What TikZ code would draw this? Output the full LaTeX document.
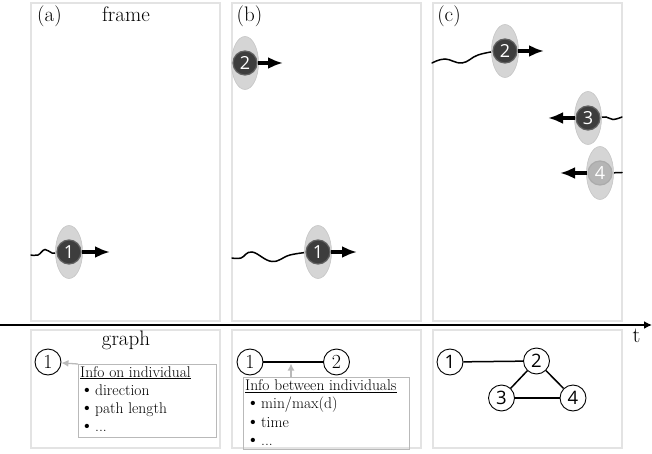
\documentclass[tikz,border=0pt]{standalone}
\usepackage{fontspec}
\newfontfamily\numfont{Open Sans}
\usetikzlibrary{shapes.geometric, arrows.meta}

% one moving individual: halo ellipse plus core with its number
\newcommand{\Indiv}[5]{%
  \node[halo] (#1h) at (#2,#3) {};
  \node[core, #5] (#1) at (#2,#3) {#4};
}
% one line of an info box
\newcommand{\InfoItem}[4]{%
  \node[infotext, anchor=base west] (#1b) at (#2,#3) {{\fontsize{19}{19}\selectfont\textbullet}};
  \node[infotext, anchor=base west] (#1) at (#2+15,#3) {#4};
}

\begin{document}
\begin{tikzpicture}[x=1pt, y=-1pt,
  panel/.style={draw=gray!22, line width=1.8pt},
  title/.style={font=\fontsize{21}{24}\selectfont, inner sep=0pt},
  halo/.style={ellipse, minimum width=27pt, minimum height=53pt, inner sep=0pt,
    fill=gray!33, draw=gray!45, line width=0.6pt},
  core/.style={circle, minimum size=24pt, inner sep=0pt, draw=black!62,
    fill=black!76, line width=1.2pt, text=white,
    font=\numfont\fontsize{18}{18}\selectfont},
  mv/.style={line width=3.6pt, -{Latex[length=15pt,width=12pt]}},
  tail/.style={line width=1.5pt, line cap=round},
  axis/.style={line width=2.8pt, -{Latex[length=8pt,width=8pt]}},
  gnode/.style={circle, draw, line width=0.9pt, minimum size=26pt, inner sep=0pt,
    fill=white, font=\fontsize{20}{20}\selectfont},
  snode/.style={gnode, font=\numfont\fontsize{18.5}{18.5}\selectfont},
  gedge/.style={line width=1.5pt},
  infobox/.style={draw=gray!55, line width=0.9pt, inner sep=0pt},
  infotext/.style={inner sep=0pt, font=\fontsize{15.5}{18}\selectfont},
  garrow/.style={draw=gray!55, line width=1.3pt, -{Latex[length=7pt,width=7pt]}}
]
\useasboundingbox (0,0) rectangle (652,454);

% panels: frames on top, graphs below
\draw[panel] (31,3) rectangle (220,321);
\draw[panel] (232,3) rectangle (421,321);
\draw[panel] (433,3) rectangle (622,321);
\draw[panel] (31,330) rectangle (220,448);
\draw[panel] (232,330) rectangle (421,448);
\draw[panel] (433,330) rectangle (622,448);

% time axis
\coordinate (axL) at (0,325);
\coordinate (axR) at (652,325);
\draw[axis] (axL) -- (axR);
\node[title, font=\fontsize{22}{24}\selectfont] (tlbl) at (636.5,336) {t};

% titles
\node[title, anchor=base] (lbla) at (49.5,22) {(a)};
\node[title, anchor=base] (lblframe) at (126,22) {frame};
\node[title, anchor=base] (lblb) at (249.5,22) {(b)};
\node[title, anchor=base] (lblc) at (449,22) {(c)};
\node[title, anchor=base] (lblgraph) at (126,345) {graph};

% trajectories
\draw[tail] plot[smooth, tension=0.7] coordinates {(31,255) (38,255) (45,249.5) (52,253) (60,252)};
\draw[tail] plot[smooth, tension=0.7] coordinates {(232,258) (241,258) (252,252) (272,261.5) (290,255) (310,252)};
\draw[tail] plot[smooth, tension=0.7] coordinates {(432,63) (445,59) (462,63) (478,55) (497,51)};
\draw[tail] plot[smooth, tension=0.7] coordinates {(596,118) (606,117) (613,119.5) (622,117)};
\draw[tail] (608,173) -- (622,172.5);

% individuals
\Indiv{a1}{69}{252}{1}{}
\Indiv{b2}{245}{63}{2}{}
\Indiv{b1}{318}{252}{1}{}
\Indiv{c2}{505}{51}{2}{}
\Indiv{c3}{588}{118}{3}{}
\Indiv{c4}{600}{173}{4}{fill=gray!58, draw=gray!66}

% headings of motion
\coordinate (a1tip) at (110,252);
\coordinate (b2tip) at (283,63);
\coordinate (b1tip) at (357,252);
\coordinate (c2tip) at (544,51);
\coordinate (c3tip) at (548,118);
\coordinate (c4tip) at (560,173);
\draw[mv] (a1.east) -- (a1tip);
\draw[mv] (b2.east) -- (b2tip);
\draw[mv] (b1.east) -- (b1tip);
\draw[mv] (c2.east) -- (c2tip);
\draw[mv] (c3.west) -- (c3tip);
\draw[mv] (c4.west) -- (c4tip);

% graph (a): node attributes
\node[gnode] (ga1) at (48,362) {1};
\node[infobox, minimum width=138pt, minimum height=73pt, anchor=north west] (infoA) at (78,364) {};
\draw[garrow] (infoA.north west) -- (ga1);
\node[infotext, anchor=base west] (headA) at (80,377) {\underline{Info on individual}};
\InfoItem{ia1}{80}{395}{direction}
\InfoItem{ia2}{80}{413.3}{path length}
\InfoItem{ia3}{80}{431.5}{...}

% graph (b): edge attributes
\node[gnode] (gb1) at (250,362) {1};
\node[gnode] (gb2) at (336.5,362) {2};
\draw[gedge] (gb1) -- (gb2);
\node[infobox, minimum width=166pt, minimum height=72pt, anchor=north west] (infoB) at (243,377) {};
\coordinate (e12mid) at (291,362);
\draw[garrow, shorten >=1.5pt] (infoB.north west -| e12mid) -- (e12mid);
\node[infotext, anchor=base west] (headB) at (245,390.5) {\underline{Info between individuals}};
\InfoItem{ib1}{246}{408.8}{min/max(d)}
\InfoItem{ib2}{246}{427}{time}
\InfoItem{ib3}{246}{445}{...}

% graph (c)
\node[snode] (gc1) at (450,362) {1};
\node[snode] (gc2) at (536.5,361) {2};
\node[snode] (gc3) at (501.5,398) {3};
\node[snode] (gc4) at (573,398) {4};
\draw[gedge] (gc1) -- (gc2);
\draw[gedge] (gc2) -- (gc3);
\draw[gedge] (gc2) -- (gc4);
\draw[gedge] (gc3) -- (gc4);
\end{tikzpicture}
\end{document}
